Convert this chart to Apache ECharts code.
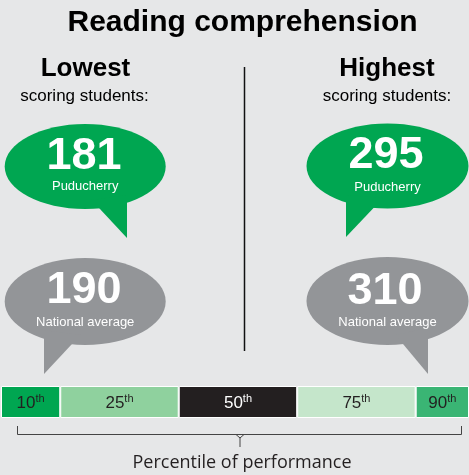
<!DOCTYPE html>
<html>
<head>
<meta charset="utf-8">
<script src="https://cdn.jsdelivr.net/npm/echarts@6/dist/echarts.min.js"></script>
<style>
html,body{margin:0;padding:0;background:#e6e7e8;}
#chart{width:469px;height:475px;}
</style>
</head>
<body>
<div id="chart"></div>
<script>
// ---- data ----
var chartTitle = 'Reading comprehension';
var sideTitles = ['Lowest', 'Highest'];
var sideSubtitle = 'scoring students:';
var puducherryScores = [181, 295];
var nationalScores = [190, 310];
var stateLabel = 'Puducherry';
var nationalLabel = 'National average';
var percentiles = ['10', '25', '50', '75', '90'];
var ordinalSuffix = 'th';
var bandSpans = [0.5, 1, 1, 1, 0.45];
var axisTitle = 'Percentile of performance';

// ---- styles ----
var BG = '#e6e7e8';
var GREEN = '#00a651';
var GRAY = '#939598';
var DARK = '#231f20';
var bandColors = ['#00a651', '#8fd19e', '#231f20', '#c5e6cb', '#3ab574'];
var bandText = [DARK, DARK, '#ffffff', DARK, DARK];
var SANS = 'Liberation Sans';

var chart = echarts.init(document.getElementById('chart'), null, {renderer: 'canvas'});

function txt(t, x, y, size, weight, color, family, align) {
  return {
    type: 'text', z: 10,
    style: {
      text: t, x: x, y: y, fill: color,
      fontSize: size, fontWeight: weight, fontFamily: family || SANS,
      align: align || 'center', verticalAlign: 'middle'
    }
  };
}

function bubble(cx, cy, rx, ry, tail, color, value, label, numX, numY, labY) {
  return [
    {type: 'ellipse', z: 5, shape: {cx: cx, cy: cy, rx: rx, ry: ry}, style: {fill: color}},
    {type: 'polygon', z: 5, shape: {points: tail}, style: {fill: color}},
    txt(String(value), numX, numY, 45, 'bold', '#ffffff'),
    txt(label, cx, labY, 13, 'normal', '#ffffff')
  ];
}

var graphics = [];
graphics.push(txt(chartTitle, 242.5, 23, 30, 'bold', '#000000'));
graphics.push(txt(sideTitles[0], 85.5, 68.5, 26, 'bold', '#000000'));
graphics.push(txt(sideTitles[1], 387, 68.5, 26, 'bold', '#000000'));
graphics.push(txt(sideSubtitle, 84.5, 96, 17, 'normal', '#000000'));
graphics.push(txt(sideSubtitle, 387, 96, 17, 'normal', '#000000'));
graphics.push({type: 'line', z: 4, shape: {x1: 244.5, y1: 67, x2: 244.5, y2: 351}, style: {stroke: '#111', lineWidth: 1.5}});

graphics = graphics.concat(bubble(85.2, 166.5, 80.5, 42.5,
  [[91.6, 200], [127, 195], [127, 238]], GREEN, puducherryScores[0], stateLabel, 84, 156.5, 186));
graphics = graphics.concat(bubble(387.5, 166, 81, 42.5,
  [[346, 195], [383, 198], [346, 237]], GREEN, puducherryScores[1], stateLabel, 386, 156, 187));
graphics = graphics.concat(bubble(85.2, 301.5, 80.5, 43.5,
  [[44, 330], [80.4, 335], [44, 374]], GRAY, nationalScores[0], nationalLabel, 84, 291, 322));
graphics = graphics.concat(bubble(387.5, 301, 81, 44,
  [[428, 328], [395.5, 335], [428, 374]], GRAY, nationalScores[1], nationalLabel, 385, 292, 322));

// bracket
graphics.push({type: 'polyline', z: 4, shape: {points: [[17.5, 426], [17.5, 434.5], [461.5, 434.5], [461.5, 426]]},
  style: {stroke: '#444', lineWidth: 1, fill: null}});
graphics.push({type: 'polyline', z: 4, shape: {points: [[236, 434.5], [240, 438], [244, 434.5]]},
  style: {stroke: '#444', lineWidth: 1, fill: null}});
graphics.push({type: 'line', z: 4, shape: {x1: 240, y1: 437, x2: 240, y2: 447}, style: {stroke: '#444', lineWidth: 1}});
graphics.push(txt(axisTitle, 242, 462.5, 18, 'normal', DARK, 'Open Sans'));

var total = bandSpans.reduce(function (a, b) { return a + b; }, 0);

var series = percentiles.map(function (p, i) {
  return {
    type: 'bar', name: p, stack: 'band', barWidth: '100%',
    data: [bandSpans[i]],
    itemStyle: {color: bandColors[i], borderColor: '#ffffff', borderWidth: 1},
    label: {show: false},
    silent: true
  };
});

chart.setOption({
  backgroundColor: BG,
  animation: false,
  grid: {left: 1, right: 0, top: 386, height: 32},
  xAxis: {type: 'value', min: 0, max: total, show: false},
  yAxis: {type: 'category', data: ['band'], show: false},
  series: series,
  graphic: graphics
});

// band labels positioned through the axis scale
var ctx = document.createElement('canvas').getContext('2d');
function measure(t, size) { ctx.font = size + 'px "Liberation Sans"'; return ctx.measureText(t).width; }
var cum = 0;
var labelGraphics = [];
percentiles.forEach(function (p, i) {
  var mid = cum + bandSpans[i] / 2;
  cum += bandSpans[i];
  var pt = chart.convertToPixel({gridIndex: 0}, [mid, 'band']);
  var wn = measure(p, 17), ws = measure(ordinalSuffix, 11);
  var left = pt[0] - (wn + ws) / 2;
  labelGraphics.push(txt(p, left, pt[1] + 1, 17, 'normal', bandText[i], SANS, 'left'));
  labelGraphics.push(txt(ordinalSuffix, left + wn, pt[1] - 3, 11, 'normal', bandText[i], SANS, 'left'));
});
chart.setOption({graphic: graphics.concat(labelGraphics)});
</script>
</body>
</html>
